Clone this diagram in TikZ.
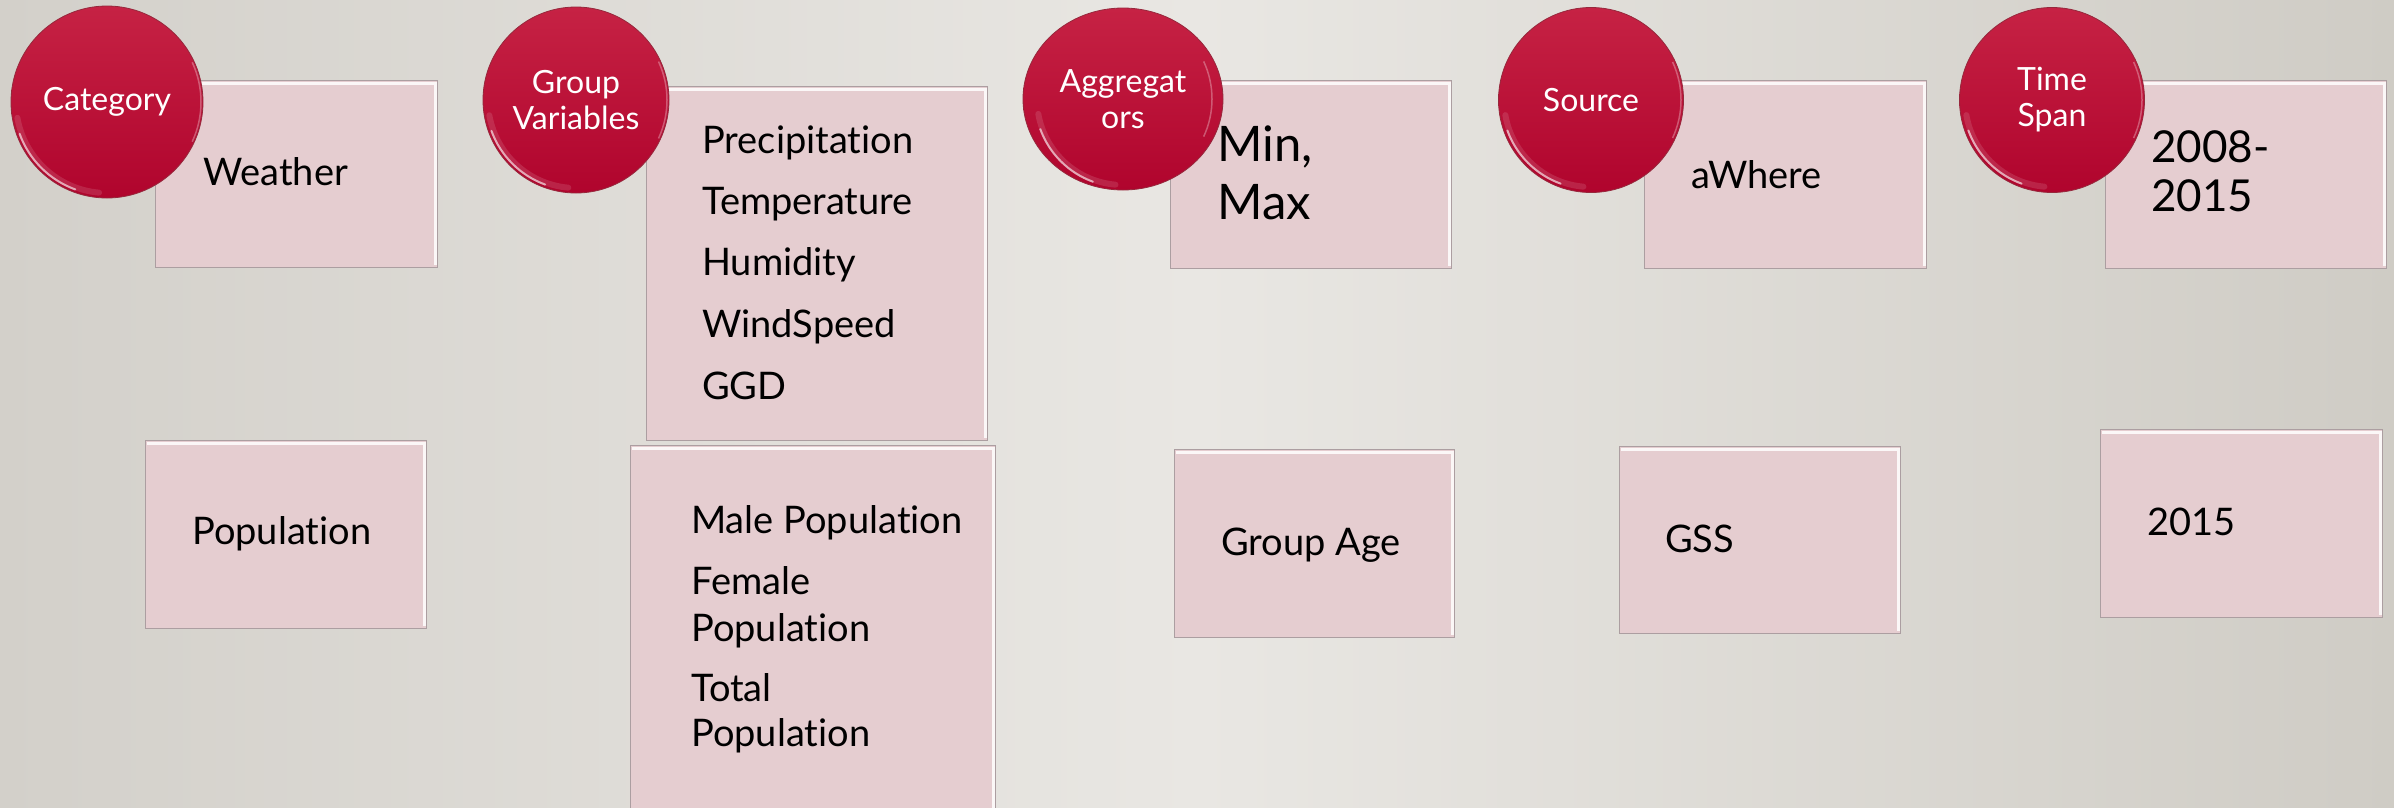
\documentclass[tikz,border=0pt]{standalone}
\usepackage{fontspec}
\setmainfont{Lato}[Ligatures={NoCommon,NoContextual}]
\usetikzlibrary{shapes.geometric}
\definecolor{bgL}{RGB}{211,208,202}
\definecolor{bgM}{RGB}{233,231,227}
\definecolor{bgR}{RGB}{207,204,197}
\definecolor{boxfill}{RGB}{229,205,208}
\definecolor{boxedge}{RGB}{172,158,161}
\definecolor{redtop}{RGB}{198,34,68}
\definecolor{redbot}{RGB}{176,4,45}
\definecolor{redline}{RGB}{150,40,60}
\tikzset{
  pbox/.style={draw=boxedge, fill=boxfill, line width=1.4pt, rectangle, inner sep=0pt, anchor=north west},
  hilite/.style={draw=white, line width=3pt, opacity=0.85},
  badge/.style={circle, inner sep=0pt, minimum size=#1, top color=redtop, bottom color=redbot, draw=redline, line width=0.8pt,
     text=white, align=center, font=\fontsize{32}{36}\selectfont},
  rim/.style={draw=white, line width=2pt, opacity=0.6, line cap=round},
  rimsoft/.style={draw=white, line width=6pt, opacity=0.12, line cap=round},
  btext/.style={anchor=base west, inner sep=0pt, text=black, font=\fontsize{38}{46}\selectfont},
  bigtext/.style={anchor=base west, inner sep=0pt, text=black, font=\fontsize{49}{58}\selectfont},
  yeartext/.style={anchor=base west, inner sep=0pt, text=black, font=\fontsize{44}{52}\selectfont}
}
\newcommand\mybox[5]{%
  \node[pbox, minimum width=#4-#2, minimum height=#5-#3] (#1) at (#2,-#3) {};
  \draw[hilite] ([xshift=2pt,yshift=-3pt]#1.north west) -- ([xshift=-3pt,yshift=-3pt]#1.north east) -- ([xshift=-3pt,yshift=3pt]#1.south east);
}
\newcommand\myrim[2]{%
  \draw[rimsoft] (#1.center) ++(190:#2-5) arc[start angle=190, end angle=265, radius=#2-5];
  \draw[rim] (#1.center) ++(200:#2-3) arc[start angle=200, end angle=250, radius=#2-3];
  \draw[draw=white, line width=1.5pt, opacity=0.3] (#1.center) ++(-25:#2-2) arc[start angle=-25, end angle=25, radius=#2-2];
}
\begin{document}
\begin{tikzpicture}[x=1pt,y=1pt]
\useasboundingbox (0,0) rectangle (2394,-807);
\shade[left color=bgL, right color=bgR, middle color=bgM] (0,0) rectangle (2394,-807);

% boxes
\mybox{b1}{155}{80}{437}{267}
\mybox{b2}{145}{440}{426}{628}
\mybox{b3}{646}{86}{987}{440}
\mybox{b4}{630}{445}{995}{812}
\mybox{b5}{1170}{80}{1451}{268}
\mybox{b6}{1174}{449}{1454}{637}
\mybox{b7}{1644}{80}{1926}{268}
\mybox{b8}{1619}{446}{1900}{633}
\mybox{b9}{2105}{80}{2386}{268}
\mybox{b10}{2100}{429}{2382}{617}

% box texts
\node[btext] (t1) at (203,-185) {Weather};
\node[btext] (t2) at (192,-544) {Population};
\node[btext] (t3a) at (702,-153) {Precipitation};
\node[btext] (t3b) at (702,-214) {Temperature};
\node[btext] (t3c) at (702,-275) {Humidity};
\node[btext] (t3d) at (702,-337) {WindSpeed};
\node[btext] (t3e) at (702,-399) {GGD};
\node[btext] (t4a) at (691,-533) {Male Population};
\node[btext] (t4b) at (691,-594) {Female};
\node[btext] (t4c) at (691,-641) {Population};
\node[btext] (t4d) at (691,-701) {Total};
\node[btext] (t4e) at (691,-746) {Population};
\node[bigtext] (t5a) at (1217,-161) {Min,};
\node[bigtext] (t5b) at (1217,-219) {Max};
\node[btext] (t6) at (1221,-555) {Group Age};
\node[btext] (t7) at (1691,-188) {aWhere};
\node[btext] (t8) at (1665,-552) {GSS};
\node[yeartext] (t9a) at (2151,-162) {2008-};
\node[yeartext] (t9b) at (2151,-211) {2015};
\node[btext] (t10) at (2147,-535) {2015};

% badges
\node[badge=192pt] (c1) at (107,-102) {Category};
\myrim{c1}{96pt}
\node[badge=186pt] (c2) at (576,-100) {Group\\Variables};
\myrim{c2}{93pt}
\node[badge=10pt, ellipse, minimum width=200pt, minimum height=182pt] (c3) at (1123,-99) {Aggregat\\ors};
\myrim{c3}{91pt}
\node[badge=185pt] (c4) at (1591,-100) {Source};
\myrim{c4}{92pt}
\node[badge=185pt] (c5) at (2052,-100) {Time\\Span};
\myrim{c5}{92pt}
\end{tikzpicture}
\end{document}
